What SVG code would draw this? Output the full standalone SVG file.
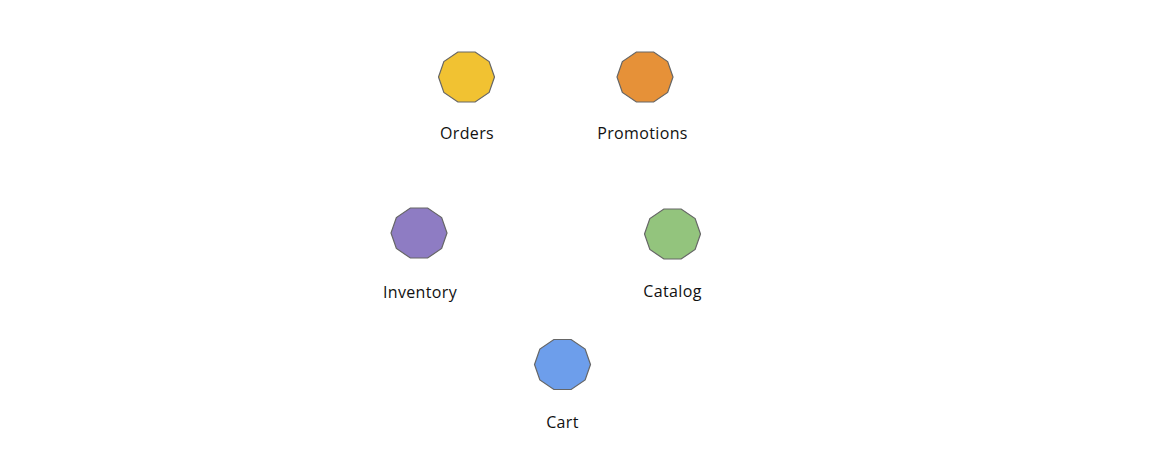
<svg xmlns="http://www.w3.org/2000/svg" width="1154" height="470" viewBox="0 0 1154 470">
<style>
.n{stroke:#666666;stroke-width:1.2}
.l{font-family:"Open Sans","Noto Sans",sans-serif;font-size:16px;letter-spacing:0.35px;fill:#111111;text-anchor:middle}
</style>
<defs>
<polygon id="dec" points="28,0 22.65,15.46 8.65,25 -8.65,25 -22.65,15.46 -28,0 -22.65,-15.46 -8.65,-25 8.65,-25 22.65,-15.46"/>
</defs>
<rect width="1154" height="470" fill="#ffffff"/>
<g id="connectors"></g>
<g id="orders"><use href="#dec" x="466.5" y="77" class="n" fill="#F1C232"/><text class="l" x="467" y="139">Orders</text></g>
<g id="promotions"><use href="#dec" x="645" y="77" class="n" fill="#E69138"/><text class="l" x="642.5" y="139">Promotions</text></g>
<g id="inventory"><use href="#dec" x="419" y="233" class="n" fill="#8E7CC3"/><text class="l" x="420" y="298">Inventory</text></g>
<g id="catalog"><use href="#dec" x="672.5" y="234" class="n" fill="#93C47D"/><text class="l" x="672.5" y="297">Catalog</text></g>
<g id="cart"><use href="#dec" x="562.5" y="364.5" class="n" fill="#6D9EEB"/><text class="l" x="562.5" y="428">Cart</text></g>
</svg>
